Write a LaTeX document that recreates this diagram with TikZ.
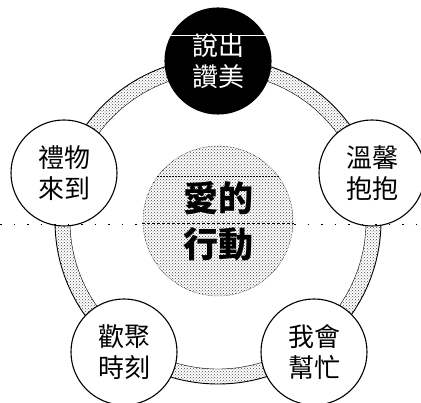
\documentclass[tikz,border=0pt]{standalone}
\usepackage{fontspec}
\newfontfamily\cjk{Noto Sans CJK TC}
\usetikzlibrary{patterns}
\tikzset{
  stage/.style={circle,draw=black,line width=1.1pt,fill=white,minimum size=106pt,inner sep=0pt,align=center,font=\cjk\fontsize{26}{31}\selectfont},
  stagedark/.style={stage,fill=black,text=white},
  hub/.style={circle,draw=black,line width=0.5pt,densely dotted,minimum size=150pt,inner sep=0pt,align=center,font=\cjk\fontsize{35}{46}\selectfont\bfseries,pattern=crosshatch dots,pattern color=black!75},
  band/.style={even odd rule,pattern=crosshatch dots,pattern color=black!70},
  bandedge/.style={black,line width=0.9pt},
  scan/.style={black,line width=0.7pt,dash pattern=on 3pt off 2pt}
}
\begin{document}
\begin{tikzpicture}[x=1pt,y=-1pt]
\useasboundingbox (0,0) rectangle (421,403);
\fill[white] (0,0) rectangle (421,403);
\coordinate (o) at (218,221);
% ring
\path[band] (o) circle[radius=163] (o) circle[radius=148];
\draw[bandedge] (o) circle[radius=163];
\draw[black,line width=0.4pt] (o) circle[radius=148];
% hub
\node[hub] (hub) at (218,221) {愛的\\行動};
\coordinate (sl) at (142,223);
\coordinate (sr) at (294,223);
\draw[scan] (sl) -- (sr);
\coordinate (tl) at (157,176);
\coordinate (tr) at (279,176);
\draw[black,line width=0.5pt,dash pattern=on 2pt off 1pt] (tl) -- (tr);
% stages
\node[stagedark] (n1) at (218,61) {說出\\讚美};
\node[stage] (n2) at (372,173) {溫馨\\抱抱};
\node[stage] (n3) at (314,352) {我會\\幫忙};
\node[stage] (n4) at (124,352) {歡聚\\時刻};
\node[stage] (n5) at (64,173) {禮物\\來到};
% scan line artefacts
\coordinate (a) at (0,224);
\coordinate (b) at (142,224);
\coordinate (c) at (294,224);
\coordinate (d) at (421,224);
\draw[black,line width=0.6pt,dash pattern=on 1.5pt off 12pt] (a) -- (b);
\draw[black,line width=0.6pt,dash pattern=on 1.5pt off 12pt] (c) -- (d);
\coordinate (e) at (170,35);
\coordinate (f) at (266,35);
\draw[white,line width=0.7pt] (e) -- (f);
\end{tikzpicture}
\end{document}
